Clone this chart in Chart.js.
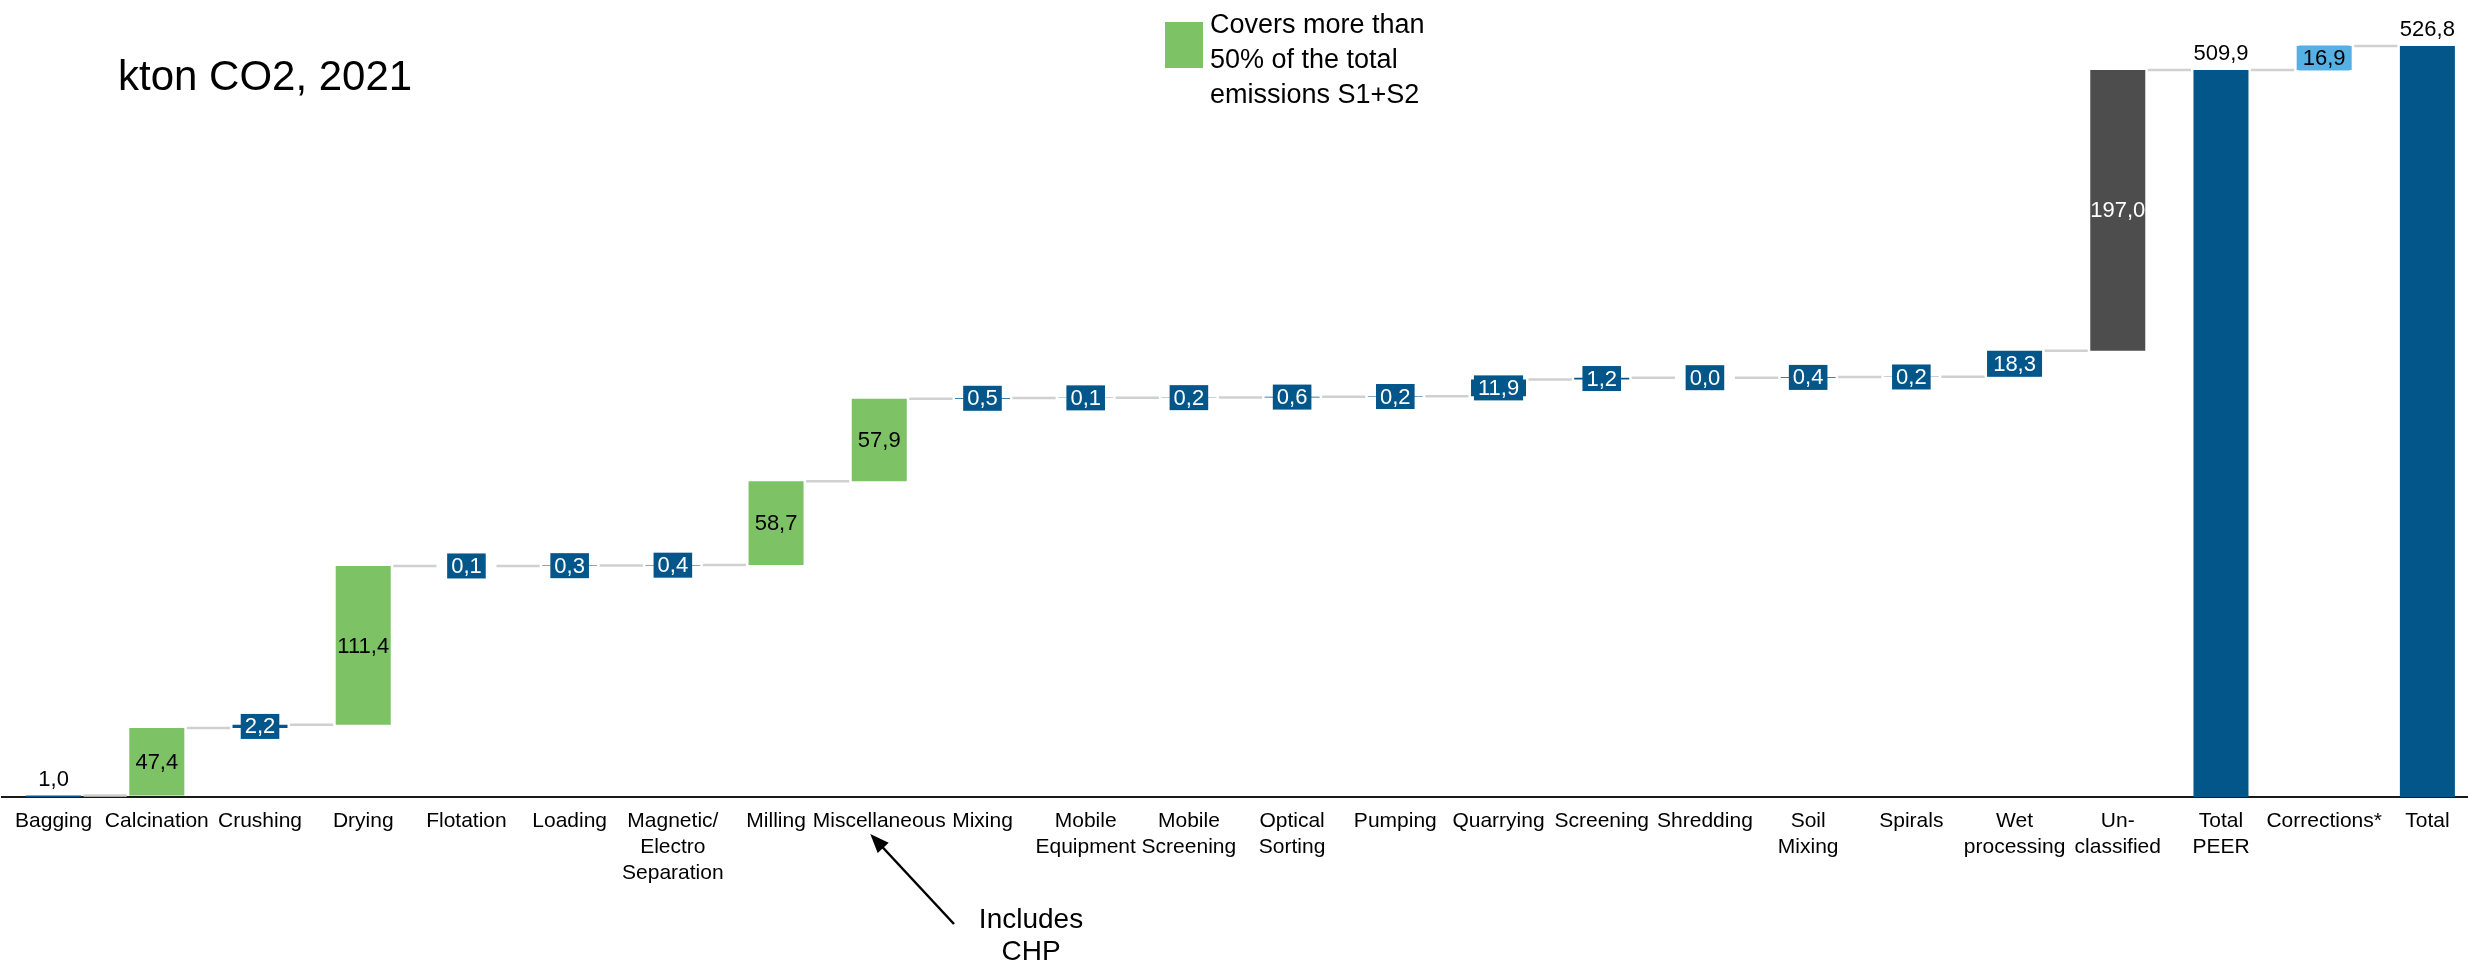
<!DOCTYPE html>
<html>
<head>
<meta charset="utf-8">
<script src="https://cdn.jsdelivr.net/npm/chart.js@4.4.1/dist/chart.umd.min.js"></script>
<style>
  html, body { margin: 0; padding: 0; background: #fff; overflow: hidden; }
  #wrap { position: relative; width: 2481px; height: 966px; }
</style>
</head>
<body>
<div id="wrap"><canvas id="wfChart"></canvas></div>
<script>
const categories = [
  'Bagging', 'Calcination', 'Crushing', 'Drying', 'Flotation', 'Loading',
  ['Magnetic/', 'Electro', 'Separation'], 'Milling', 'Miscellaneous', 'Mixing',
  ['Mobile', 'Equipment'], ['Mobile', 'Screening'], ['Optical', 'Sorting'],
  'Pumping', 'Quarrying', 'Screening', 'Shredding', ['Soil', 'Mixing'], 'Spirals',
  ['Wet', 'processing'], ['Un-', 'classified'], ['Total', 'PEER'], 'Corrections*', 'Total'
];
const values = [1.0, 47.4, 2.2, 111.4, 0.1, 0.3, 0.4, 58.7, 57.9, 0.5, 0.1, 0.2,
  0.6, 0.2, 11.9, 1.2, 0.0, 0.4, 0.2, 18.3, 197.0, 509.9, 16.9, 526.8];
// start / major (covers >50% of S1+S2) / minor / unclassified / total / correction
const kinds = ['start', 'major', 'minor', 'major', 'minor', 'minor', 'minor', 'major',
  'major', 'minor', 'minor', 'minor', 'minor', 'minor', 'minor', 'minor', 'minor',
  'minor', 'minor', 'minor', 'unclassified', 'total', 'correction', 'total'];

const FONT = '"Liberation Sans", Arial, sans-serif';
const colours = {
  start: '#02568a', major: '#7dc366', minor: '#02568a',
  unclassified: '#4d4d4d', total: '#02568a', correction: '#56b0e4'
};

// floating bars: steps start at the running total, totals start at zero
let running = 0;
const ranges = values.map((v, i) => {
  if (kinds[i] === 'total') { running = v; return [0, v]; }
  const r = [running, running + v];
  running += v;
  return r;
});

const fmt = v => v.toFixed(1).replace('.', ',');

const connectors = {
  id: 'connectors',
  beforeDatasetsDraw(chart) {
    const ctx = chart.ctx;
    const bars = chart.getDatasetMeta(0).data;
    const y = chart.scales.y;
    ctx.save();
    ctx.strokeStyle = '#d0d0d0';
    ctx.lineWidth = 2.5;
    for (let i = 0; i < bars.length - 1; i++) {
      const py = y.getPixelForValue(ranges[i][1]);
      ctx.beginPath();
      ctx.moveTo(bars[i].x + bars[i].width / 2 + 2.5, py);
      ctx.lineTo(bars[i + 1].x - bars[i + 1].width / 2 - 2.5, py);
      ctx.stroke();
    }
    ctx.restore();
  }
};

const stepLabels = {
  id: 'stepLabels',
  afterDatasetsDraw(chart) {
    const ctx = chart.ctx;
    const bars = chart.getDatasetMeta(0).data;
    ctx.save();
    ctx.font = '22px ' + FONT;
    ctx.textAlign = 'center';
    bars.forEach((bar, i) => {
      const text = fmt(values[i]);
      const kind = kinds[i];
      const top = Math.min(bar.y, bar.base);
      const mid = (bar.y + bar.base) / 2;
      if (kind === 'start' || kind === 'total') {
        ctx.fillStyle = '#000';
        ctx.textBaseline = 'alphabetic';
        ctx.fillText(text, bar.x, top - 10);
        return;
      }
      if (kind === 'minor' || kind === 'correction') {
        const w = ctx.measureText(text).width + 8;
        ctx.fillStyle = colours[kind];
        ctx.fillRect(bar.x - w / 2, mid - 12.5, w, 25);
      }
      ctx.fillStyle = (kind === 'minor' || kind === 'unclassified') ? '#fff' : '#000';
      ctx.textBaseline = 'middle';
      ctx.fillText(text, bar.x, mid + 1);
    });
    ctx.restore();
  }
};

const notes = {
  id: 'notes',
  afterDraw(chart) {
    const ctx = chart.ctx;
    ctx.save();
    ctx.fillStyle = '#000';
    ctx.textBaseline = 'alphabetic';
    ctx.textAlign = 'left';
    ctx.font = '42px ' + FONT;
    ctx.fillText('kton CO2, 2021', 118, 90);

    // legend
    ctx.fillStyle = colours.major;
    ctx.fillRect(1165, 22, 38, 46);
    ctx.fillStyle = '#000';
    ctx.font = '27px ' + FONT;
    ['Covers more than', '50% of the total', 'emissions S1+S2'].forEach((t, k) => {
      ctx.fillText(t, 1210, 33 + k * 35);
    });

    // annotation
    ctx.font = '28px ' + FONT;
    ctx.textAlign = 'center';
    ctx.fillText('Includes', 1031, 928);
    ctx.fillText('CHP', 1031, 960);
    const tipX = chart.scales.x.getPixelForValue(8) - 9, tipY = 834;
    const tailX = 954, tailY = 924;
    const ang = Math.atan2(tipY - tailY, tipX - tailX);
    ctx.strokeStyle = '#000';
    ctx.lineWidth = 2.5;
    ctx.beginPath();
    ctx.moveTo(tailX, tailY);
    ctx.lineTo(tipX - 14 * Math.cos(ang), tipY - 14 * Math.sin(ang));
    ctx.stroke();
    ctx.beginPath();
    ctx.moveTo(tipX, tipY);
    ctx.lineTo(tipX - 19 * Math.cos(ang) + 7.5 * Math.sin(ang), tipY - 19 * Math.sin(ang) - 7.5 * Math.cos(ang));
    ctx.lineTo(tipX - 19 * Math.cos(ang) - 7.5 * Math.sin(ang), tipY - 19 * Math.sin(ang) + 7.5 * Math.cos(ang));
    ctx.closePath();
    ctx.fill();
    ctx.restore();
  }
};

new Chart(document.getElementById('wfChart').getContext('2d'), {
  type: 'bar',
  data: {
    labels: categories,
    datasets: [{
      data: ranges,
      backgroundColor: kinds.map(k => colours[k]),
      borderWidth: 0,
      barPercentage: 0.533,
      categoryPercentage: 1
    }]
  },
  options: {
    responsive: true,
    maintainAspectRatio: false,
    animation: false,
    layout: { padding: { left: 2, right: 2, top: 10, bottom: 0 } },
    plugins: {
      legend: { display: false },
      tooltip: { enabled: false }
    },
    scales: {
      x: {
        z: 1,
        grid: { display: false, drawTicks: false },
        border: { display: true, color: '#1a1a1a', width: 2 },
        ticks: {
          color: '#000',
          font: { family: FONT, size: 21, lineHeight: 1.24 },
          padding: 11,
          maxRotation: 0,
          minRotation: 0,
          autoSkip: false
        },
        afterFit(scale) { scale.height = 169; }
      },
      y: { display: false, min: 0, max: 552 }
    }
  },
  plugins: [connectors, stepLabels, notes]
});
</script>
</body>
</html>
